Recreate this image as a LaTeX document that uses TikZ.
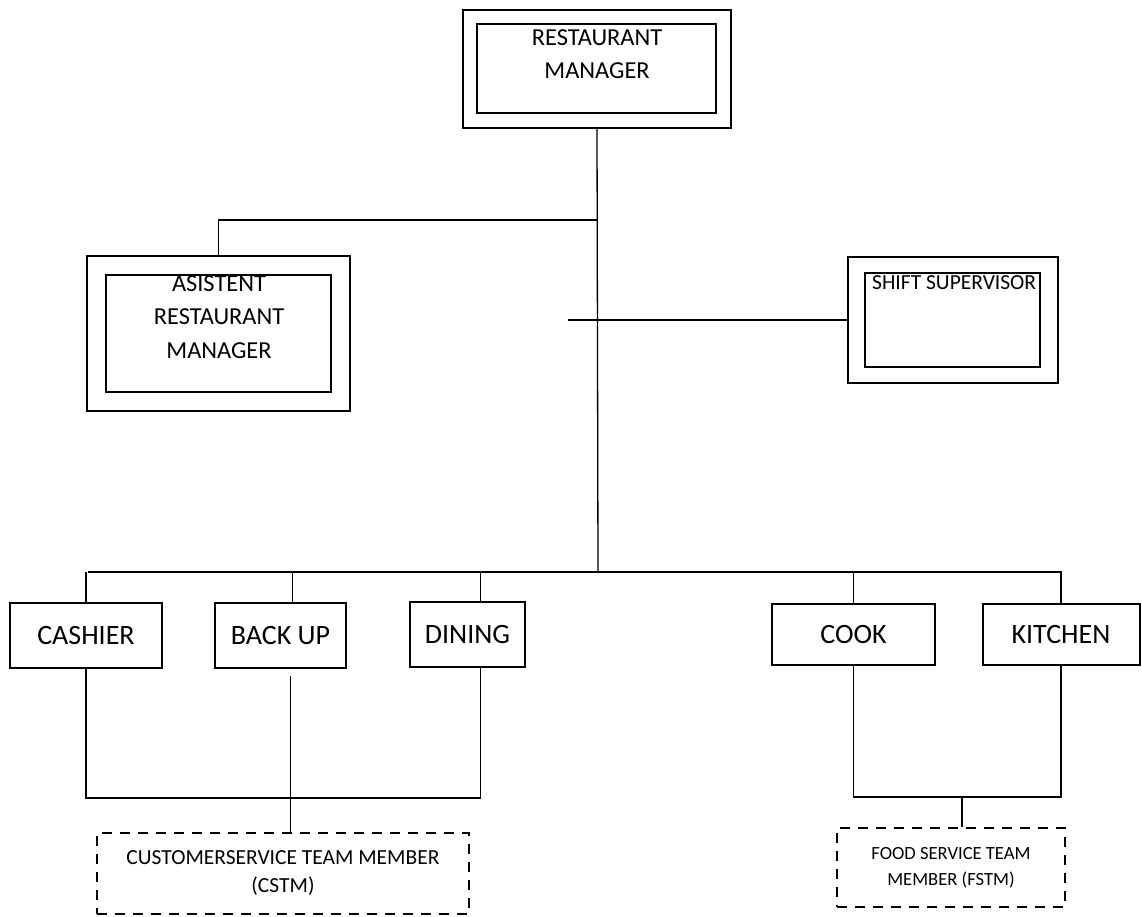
\documentclass[tikz,border=0pt]{standalone}
\usepackage{fontspec}
\setmainfont{Carlito}
\usetikzlibrary{positioning}
\tikzset{
  outer box/.style = {draw, line width=2.4pt, inner sep=0pt},
  inner box/.style = {draw, line width=2.4pt, inner sep=0pt},
  role box/.style  = {draw, line width=2pt, inner sep=0pt, minimum height=65pt,
                      font=\fontsize{28}{32}\selectfont},
  team box/.style  = {draw, line width=2.4pt, dash pattern=on 10pt off 8pt,
                      inner sep=0pt, align=center},
  head text/.style = {align=center, inner sep=0pt, font=\fontsize{24.4}{33.5}\selectfont},
  link/.style      = {line width=1.3pt},
}

\begin{document}
\begin{tikzpicture}[x=1pt, y=-1pt]
  \useasboundingbox (0,0) rectangle (1142,917);

  % managers
  \node[outer box, minimum width=268pt, minimum height=118pt] (mgrout) at (597,69) {};
  \node[inner box, minimum width=239pt, minimum height=89pt] (mgrin) at (596.5,68.5) {};
  \node[head text] (mgr) at (597,54) {RESTAURANT\\MANAGER};

  \node[outer box, minimum width=263pt, minimum height=155pt] (asstout) at (218.5,333.5) {};
  \node[inner box, minimum width=225pt, minimum height=117pt] (asstin) at (218.5,333.5) {};
  \node[head text] (asst) at (219,317) {ASISTENT\\RESTAURANT\\MANAGER};

  \node[outer box, minimum width=210pt, minimum height=126pt] (shiftout) at (953,320) {};
  \node[inner box, minimum width=175pt, minimum height=94pt] (shiftin) at (952.5,320) {};
  \node[head text, anchor=west, font=\fontsize{21.5}{26}\selectfont] (shift) at (872,283) {SHIFT SUPERVISOR};

  % team roles
  \node[role box, minimum width=152pt] (cashier) at (86,635.5) {CASHIER};
  \node[role box, minimum width=131pt] (backup)  at (280.5,635.5) {BACK UP};
  \node[role box, minimum width=115pt] (dining)  at (467.5,634.5) {DINING};
  \node[role box, minimum width=163pt, minimum height=61pt] (cook)    at (853.5,634.5) {COOK};
  \node[role box, minimum width=157pt, minimum height=61pt] (kitchen) at (1061,634.5) {KITCHEN};

  \node[team box, minimum width=372pt, minimum height=81pt,
        font=\fontsize{21.5}{28}\selectfont] (cstm) at (283,873.5)
        {CUSTOMERSERVICE TEAM MEMBER\\(CSTM)};
  \node[team box, minimum width=228pt, minimum height=79pt,
        font=\fontsize{18.6}{26}\selectfont] (fstm) at (951,867.5)
        {FOOD SERVICE TEAM\\MEMBER (FSTM)};

  % connectors
  \coordinate (bus) at (598,572);
  \coordinate (busleft) at (88,572);
  \coordinate (busright) at (1062,572);
  \coordinate (asstjoin) at (598,220);
  \coordinate (shiftstub) at (568,320);
  \coordinate (custbar) at (86,798);
  \coordinate (foodbar) at (853,797);
  \coordinate (foodjoin) at (962,797);

  \draw[link] (mgrout.south) -- (bus);
  \draw[link] (asstout.north) |- (asstjoin);
  \draw[link] (shiftstub) -- (shiftout.west);
  \draw[link] (busleft) -- (busright);

  \draw[link] (cashier.north) -- (cashier.north |- busleft);
  \draw[link] ([xshift=12pt]backup.north) -- ([xshift=12pt]backup.north |- busleft);
  \draw[link] ([xshift=13pt]dining.north) -- ([xshift=13pt]dining.north |- busleft);
  \draw[link] (cook.north) -- (cook.north |- busleft);
  \draw[link] (kitchen.north) -- (kitchen.north |- busleft);

  \draw[link] (cashier.south) |- ([xshift=13pt]dining.south |- custbar) -- ([xshift=13pt]dining.south);
  \draw[link] ([shift={(10pt,-7pt)}]backup.south) -- ([xshift=10pt]backup.south |- cstm.north);

  \draw[link] (cook.south) |- (kitchen.south |- foodbar) -- (kitchen.south);
  \draw[link] (foodjoin) -- (foodjoin |- fstm.north);
\end{tikzpicture}
\end{document}
